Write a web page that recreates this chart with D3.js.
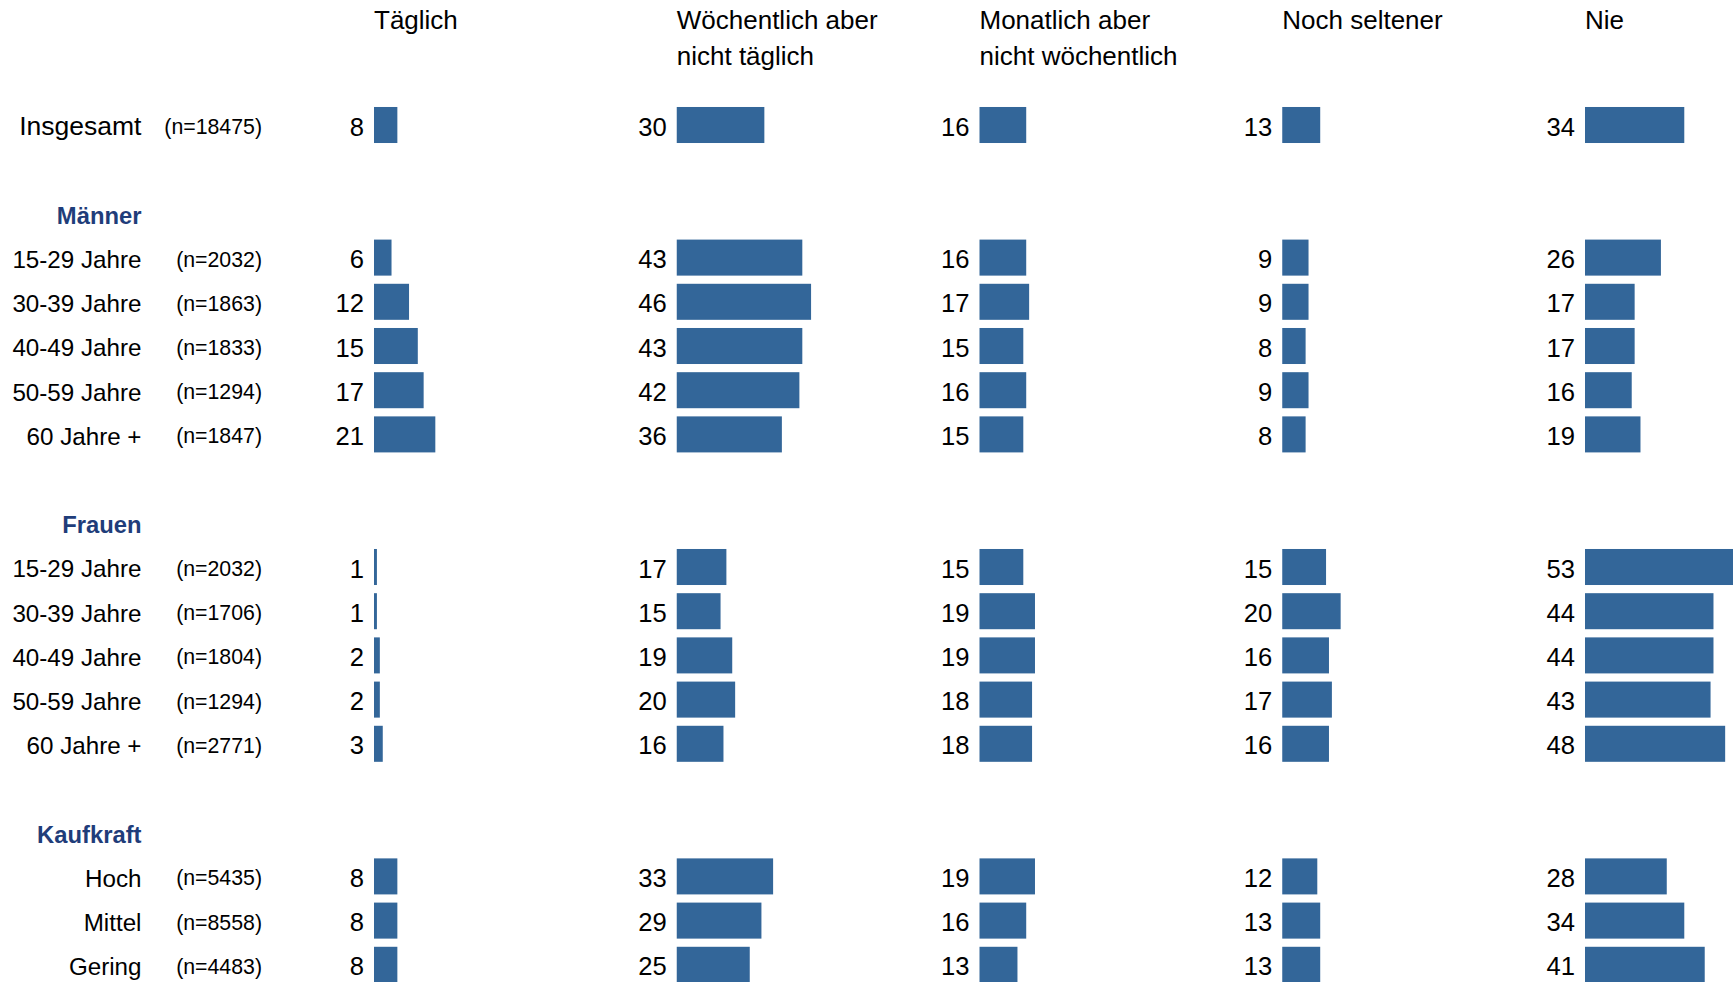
<!DOCTYPE html>
<html>
<head>
<meta charset="utf-8">
<script src="https://cdn.jsdelivr.net/npm/d3@7"></script>
<style>
  body { margin: 0; background: #fff; }
  svg { display: block; font-family: "Liberation Sans", Arial, sans-serif; }
</style>
</head>
<body>
<div id="chart"></div>
<script>
const columnHeaders = [["Täglich"], ["Wöchentlich aber", "nicht täglich"], ["Monatlich aber", "nicht wöchentlich"], ["Noch seltener"], ["Nie"]];
const rowLabels = ["Insgesamt", "15-29 Jahre", "30-39 Jahre", "40-49 Jahre", "50-59 Jahre", "60 Jahre +",
    "15-29 Jahre", "30-39 Jahre", "40-49 Jahre", "50-59 Jahre", "60 Jahre +", "Hoch", "Mittel", "Gering"];
const sampleSizes = ["(n=18475)", "(n=2032)", "(n=1863)", "(n=1833)", "(n=1294)", "(n=1847)",
    "(n=2032)", "(n=1706)", "(n=1804)", "(n=1294)", "(n=2771)", "(n=5435)", "(n=8558)", "(n=4483)"];
const rowGroups = [null, "Männer", "Männer", "Männer", "Männer", "Männer",
    "Frauen", "Frauen", "Frauen", "Frauen", "Frauen", "Kaufkraft", "Kaufkraft", "Kaufkraft"];
const taeglich = [8, 6, 12, 15, 17, 21, 1, 1, 2, 2, 3, 8, 8, 8];
const woechentlich = [30, 43, 46, 43, 42, 36, 17, 15, 19, 20, 16, 33, 29, 25];
const monatlich = [16, 16, 17, 15, 16, 15, 15, 19, 19, 18, 18, 19, 16, 13];
const seltener = [13, 9, 9, 8, 9, 8, 15, 20, 16, 17, 16, 12, 13, 13];
const nie = [34, 26, 17, 17, 16, 19, 53, 44, 44, 43, 48, 28, 34, 41];
const seriesValues = [taeglich, woechentlich, monatlich, seltener, nie];

const width = 1733, height = 982;
const barColor = "#336699";
const groupColor = "#1f3d7a";

// build the vertical slots: rows, group headers and blank gaps
const slots = [];
rowLabels.forEach((label, i) => {
    const g = rowGroups[i];
    if (i > 0 && g !== rowGroups[i - 1]) {
        slots.push({ type: "blank" });
        slots.push({ type: "group", label: g });
    }
    slots.push({ type: "row", index: i });
});

const y = d3.scaleBand()
    .domain(d3.range(slots.length))
    .range([102.9, 102.9 + 44.2 * slots.length])
    .paddingInner(0.185)
    .paddingOuter(0.0925);

const col = d3.scaleBand()
    .domain(d3.range(columnHeaders.length))
    .range([374, 374 + 302.75 * columnHeaders.length]);

const x = d3.scaleLinear().domain([0, 100]).range([0, 292]);

const svg = d3.select("#chart").append("svg")
    .attr("width", width)
    .attr("height", height)
    .attr("viewBox", [0, 0, width, height]);

// column headers
const header = svg.append("g")
    .selectAll("text")
    .data(columnHeaders)
    .join("text")
    .attr("x", (d, i) => col(i))
    .attr("y", 29)
    .attr("font-size", 26)
    .attr("fill", "#000");
header.selectAll("tspan")
    .data(d => d)
    .join("tspan")
    .attr("x", function () { return d3.select(this.parentNode).attr("x"); })
    .attr("dy", (d, i) => i === 0 ? 0 : 36)
    .text(d => d);

const cy = i => y(i) + y.bandwidth() / 2;

// group headers
svg.append("g")
    .selectAll("text")
    .data(slots.map((s, i) => ({ ...s, slot: i })).filter(s => s.type === "group"))
    .join("text")
    .attr("x", 141.5)
    .attr("y", d => cy(d.slot) + 10.5)
    .attr("text-anchor", "end")
    .attr("font-size", 23.8)
    .attr("font-weight", "bold")
    .attr("fill", groupColor)
    .text(d => d.label);

const rows = slots.map((s, i) => ({ ...s, slot: i })).filter(s => s.type === "row");

// row labels
svg.append("g")
    .selectAll("text")
    .data(rows)
    .join("text")
    .attr("x", 141.5)
    .attr("y", d => cy(d.slot) + 10.3)
    .attr("text-anchor", "end")
    .attr("font-size", d => d.index === 0 ? 26.5 : 24.2)
    .attr("fill", "#000")
    .text(d => rowLabels[d.index]);

// sample sizes
svg.append("g")
    .selectAll("text")
    .data(rows)
    .join("text")
    .attr("x", 262)
    .attr("y", d => cy(d.slot) + 9)
    .attr("text-anchor", "end")
    .attr("font-size", 21.3)
    .attr("fill", "#000")
    .text(d => sampleSizes[d.index]);

// bars and values per column
seriesValues.forEach((vals, c) => {
    const g = svg.append("g");
    g.selectAll("rect")
        .data(rows)
        .join("rect")
        .attr("x", col(c) + x(0))
        .attr("y", d => y(d.slot))
        .attr("width", d => x(vals[d.index]) - x(0))
        .attr("height", y.bandwidth())
        .attr("fill", barColor);
    g.selectAll("text")
        .data(rows)
        .join("text")
        .attr("x", col(c) - 10)
        .attr("y", d => cy(d.slot) + 10.5)
        .attr("text-anchor", "end")
        .attr("font-size", 25.6)
        .attr("fill", "#000")
        .text(d => vals[d.index]);
});
</script>
</body>
</html>
